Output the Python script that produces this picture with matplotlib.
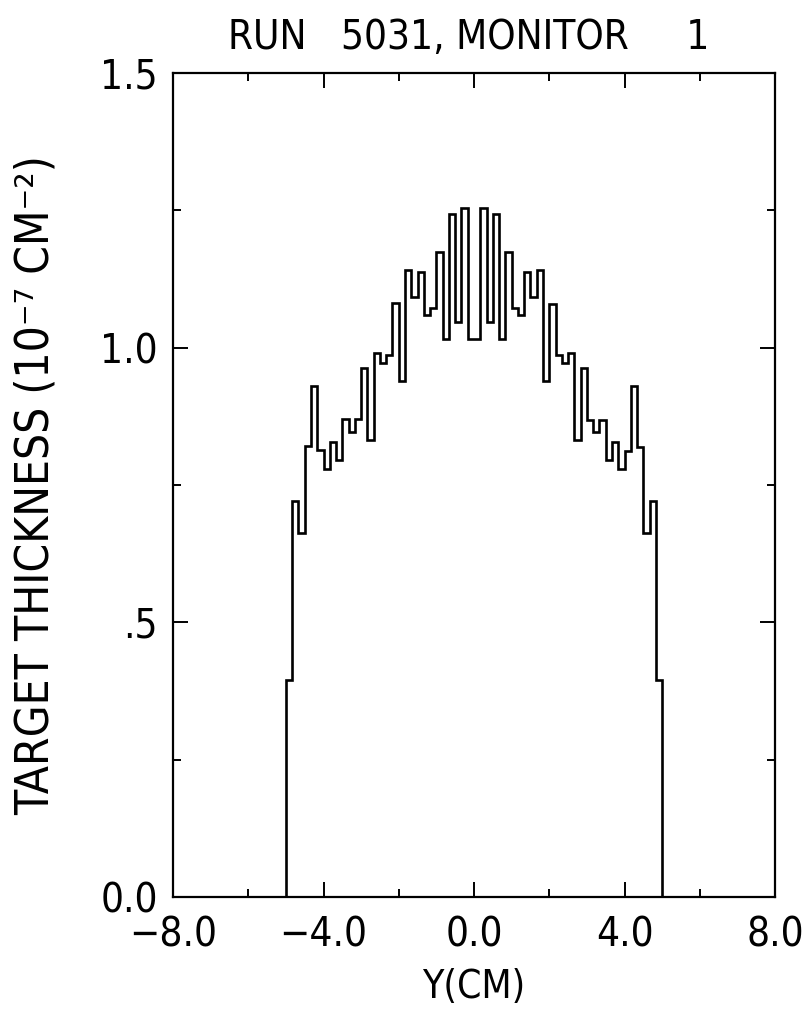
import matplotlib
matplotlib.use("Agg")
import matplotlib.pyplot as plt
import numpy as np
from matplotlib.ticker import FixedLocator

plt.rcParams['font.family'] = ['DejaVu Sans']
plt.rcParams['font.stretch'] = 'condensed'

# histogram: 60 bins of 1/6 cm from -5 to 5
bin_lo = -5.0
bin_hi = 5.0
left_half = [
    0.395, 0.720, 0.662, 0.821, 0.931, 0.814, 0.780, 0.829, 0.796, 0.870,
    0.846, 0.870, 0.963, 0.832, 0.991, 0.972, 0.987, 1.081, 0.939, 1.142,
    1.092, 1.137, 1.060, 1.072, 1.174, 1.015, 1.244, 1.047, 1.254, 1.015,
]
right_half = [
    1.015, 1.254, 1.047, 1.244, 1.015, 1.174, 1.072, 1.060, 1.137, 1.092,
    1.142, 0.939, 1.080, 0.987, 0.972, 0.990, 0.832, 0.963, 0.869, 0.846,
    0.869, 0.796, 0.829, 0.779, 0.812, 0.931, 0.820, 0.662, 0.720, 0.395,
]
thickness = left_half + right_half

x_ticks = [-8, -4, 0, 4, 8]
x_labels = ['\u22128.0', '\u22124.0', '0.0', '4.0', '8.0']
y_ticks = [0, 0.5, 1.0, 1.5]
y_labels = ['0.0', '.5', '1.0', '1.5']

edges = np.linspace(bin_lo, bin_hi, len(thickness) + 1)

fig = plt.figure(figsize=(8.08, 10.13), dpi=100)
ax = fig.add_axes([173/808, 116/1013, 602/808, 824/1013])

ax.stairs(thickness, edges, baseline=0, color='black', linewidth=1.9)

ax.set_xlim(-8, 8)
ax.set_ylim(0, 1.5)
ax.set_xticks(x_ticks)
ax.set_xticklabels(x_labels)
ax.set_yticks(y_ticks)
ax.set_yticklabels(y_labels)
ax.xaxis.set_minor_locator(FixedLocator([-6, -2, 2, 6]))
ax.yaxis.set_minor_locator(FixedLocator([0.25, 0.75, 1.25]))
ax.tick_params(which='both', direction='in', top=True, right=True,
               width=1.4, labelsize=29)
ax.tick_params(axis='x', pad=13)
ax.tick_params(axis='y', pad=11)
ax.tick_params(which='major', length=11)
ax.tick_params(which='minor', length=6)
for s in ax.spines.values():
    s.set_linewidth(1.6)

ax.set_xlabel('Y(CM)', fontsize=28, labelpad=9)
ax.set_ylabel('TARGET THICKNESS (10\u207b\u2077 CM\u207b\u00b2)', fontsize=33, labelpad=30)
fig.text(0.58, 0.962, 'RUN   5031, MONITOR     1', fontsize=29, ha='center', va='center')

fig.savefig('out.png', dpi=100)
